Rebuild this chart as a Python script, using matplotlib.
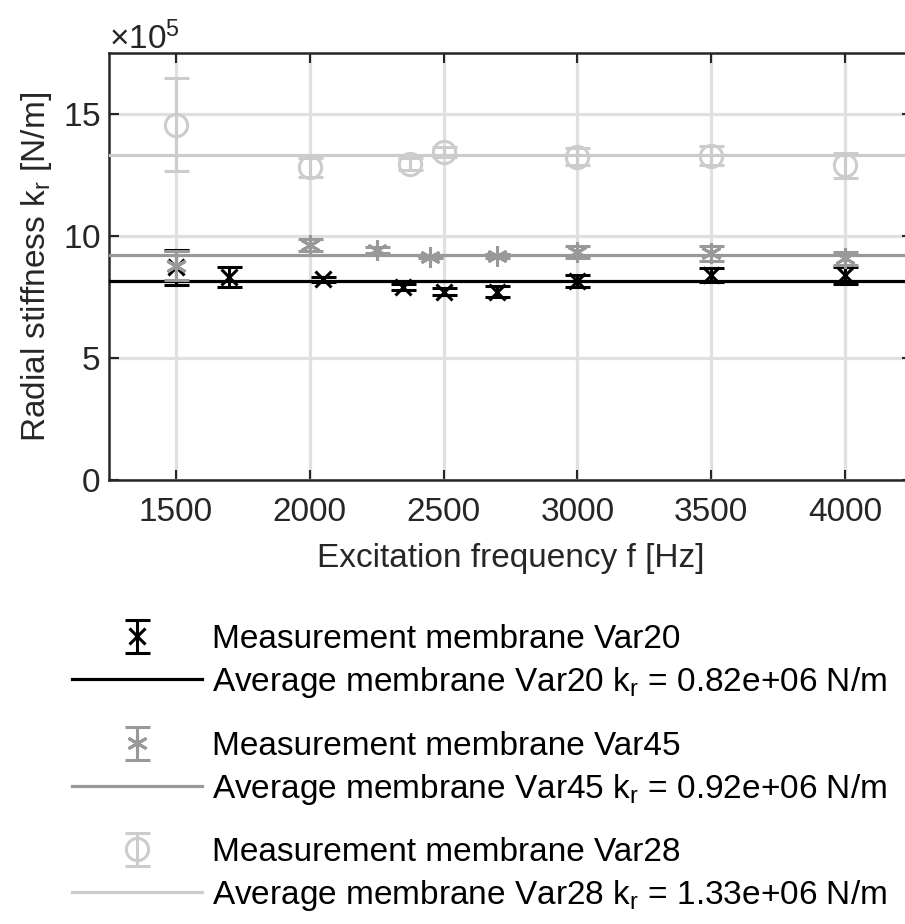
import matplotlib
matplotlib.use("Agg")
import matplotlib.pyplot as plt
from matplotlib.ticker import ScalarFormatter
import numpy as np

plt.rcParams['font.family'] = ['Liberation Sans', 'DejaVu Sans']
plt.rcParams['mathtext.fontset'] = 'custom'
plt.rcParams['mathtext.rm'] = 'Liberation Sans'

# measured radial stiffness [N/m] and standard deviation
freq_var20 = [1500, 1700, 2050, 2350, 2500, 2700, 3000, 3500, 4000]
k_var20 = [8.72e5, 8.33e5, 8.22e5, 7.92e5, 7.72e5, 7.72e5, 8.16e5, 8.40e5, 8.39e5]
err_var20 = [0.72e5, 0.40e5, 0.10e5, 0.12e5, 0.13e5, 0.22e5, 0.26e5, 0.27e5, 0.35e5]

freq_var45 = [1500, 2000, 2250, 2450, 2700, 3000, 3500, 4000]
k_var45 = [8.78e5, 9.63e5, 9.43e5, 9.15e5, 9.18e5, 9.36e5, 9.29e5, 9.08e5]
err_var45 = [0.60e5, 0.25e5, 0.14e5, 0.05e5, 0.10e5, 0.24e5, 0.30e5, 0.27e5]

freq_var28 = [1500, 2000, 2375, 2500, 3000, 3500, 4000]
k_var28 = [14.57e5, 12.81e5, 12.95e5, 13.45e5, 13.25e5, 13.29e5, 12.90e5]
err_var28 = [1.92e5, 0.40e5, 0.23e5, 0.20e5, 0.35e5, 0.38e5, 0.52e5]

txt = '#262626'
fig = plt.figure(figsize=(9.05, 9.24), dpi=100)
ax = fig.add_axes([0.1204, 0.4805, 0.8873, 0.4621])

series = [
    ('Var20', freq_var20, k_var20, err_var20, '#000000', 'x', 11),
    ('Var45', freq_var45, k_var45, err_var45, '#999999', (6, 2, 0), 15),
    ('Var28', freq_var28, k_var28, err_var28, '#cccccc', 'o', 16),
]

# one small legend per membrane, stacked below the axes (top edge in px)
leg_top = [624, 731, 837]

for i, (name, f, k, e, col, mk, ms) in enumerate(series):
    eb = ax.errorbar(f, k, yerr=e, linestyle='none', marker=mk, color=col, ms=ms,
                     mfc='none', mew=2.2, elinewidth=2.2, capsize=9, capthick=2.2,
                     zorder=3)
    avg = np.mean(k)
    ln = ax.axhline(avg, color=col, lw=2.3, zorder=3)
    labels = ['Measurement membrane ' + name,
              'Average membrane %s k$_\\mathregular{r}$ = %.2fe+06 N/m' % (name, avg / 1e6)]
    fig.legend([eb, ln], labels, loc='upper left',
               bbox_to_anchor=(72 / 905, 1 - leg_top[i] / 924),
               frameon=False, fontsize=24, handlelength=3.9, handletextpad=0.3,
               borderpad=0, borderaxespad=0, labelspacing=0.3)

ax.set_xlim(1250, 4250)
ax.set_ylim(0, 17.5e5)
ax.set_xticks([1500, 2000, 2500, 3000, 3500, 4000])
ax.set_yticks([0, 5e5, 10e5, 15e5])
fmt = ScalarFormatter(useMathText=True)
fmt.set_powerlimits((5, 5))
ax.yaxis.set_major_formatter(fmt)

ax.grid(True, color='#e0e0e0', lw=2.3, zorder=0)
ax.set_axisbelow(True)
ax.tick_params(direction='in', length=7, width=1.5, labelsize=24, colors=txt,
               top=True, right=True)
ax.tick_params(axis='x', pad=12)
ax.tick_params(axis='y', pad=6)
ax.yaxis.get_offset_text().set_fontsize(24)
ax.yaxis.get_offset_text().set_color(txt)
for s in ax.spines.values():
    s.set_linewidth(1.8)
    s.set_color(txt)

ax.set_xlabel('Excitation frequency f [Hz]', fontsize=24, color=txt, labelpad=11)
ax.set_ylabel('Radial stiffness k$_\\mathregular{r}$ [N/m]', fontsize=24, color=txt, labelpad=6)

fig.savefig('out.png', dpi=100)
